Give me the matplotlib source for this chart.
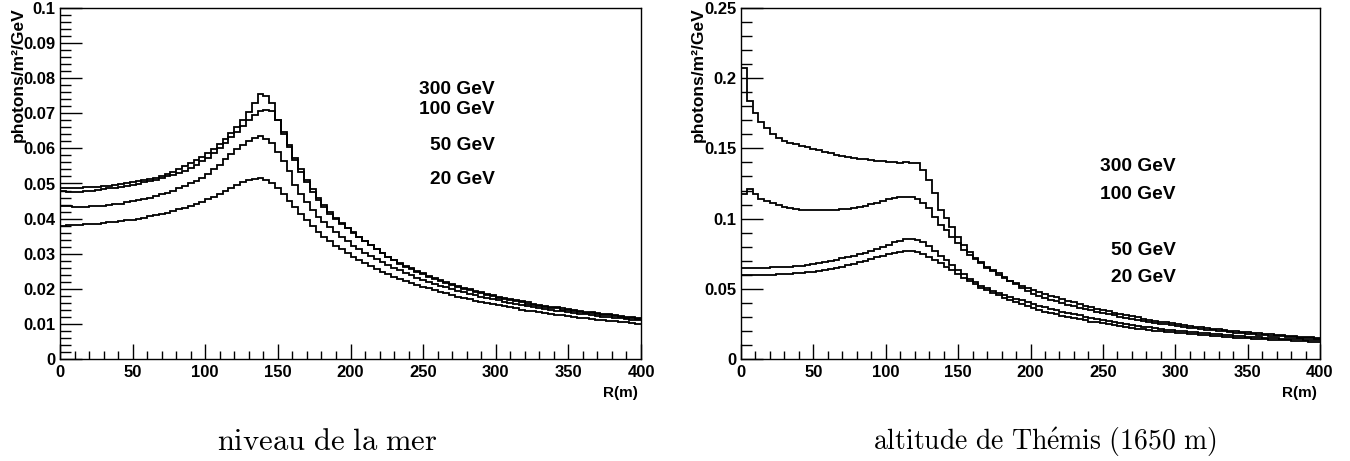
import matplotlib
matplotlib.use('Agg')
import matplotlib.pyplot as plt
from matplotlib.ticker import MultipleLocator

plt.rcParams['mathtext.fontset'] = 'cm'

# ---------------- data (4 m bins from 0 to 400 m) ----------------
bin_edges = list(range(0, 401, 4))

# sea level
L300 = [0.0488, 0.0488, 0.0487, 0.0488, 0.0489, 0.0490, 0.0491, 0.0492, 0.0494, 0.0496,
        0.0498, 0.0500, 0.0503, 0.0506, 0.0509, 0.0513, 0.0517, 0.0522, 0.0528, 0.0534,
        0.0541, 0.0549, 0.0557, 0.0566, 0.0576, 0.0587, 0.0599, 0.0612, 0.0627, 0.0644,
        0.0662, 0.0681, 0.0703, 0.0728, 0.0755, 0.0750, 0.0730, 0.0680, 0.0640, 0.0603,
        0.0567, 0.0533, 0.0503, 0.0477, 0.0453, 0.0432, 0.0414, 0.0398, 0.0384, 0.0372,
        0.0360, 0.0347, 0.0335, 0.0324, 0.0313, 0.0302, 0.0292, 0.0283, 0.0274, 0.0266,
        0.0258, 0.0251, 0.0244, 0.0237, 0.0231, 0.0225, 0.0219, 0.0214, 0.0208, 0.0203,
        0.0199, 0.0194, 0.0190, 0.0186, 0.0182, 0.0178, 0.0174, 0.0171, 0.0167, 0.0164,
        0.0161, 0.0158, 0.0155, 0.0152, 0.0149, 0.0147, 0.0144, 0.0142, 0.0140, 0.0137,
        0.0135, 0.0133, 0.0131, 0.0129, 0.0127, 0.0125, 0.0123, 0.0121, 0.0119, 0.0117]
L100 = [0.0480, 0.0477, 0.0476, 0.0477, 0.0478, 0.0480, 0.0482, 0.0484, 0.0486, 0.0488,
        0.0490, 0.0493, 0.0496, 0.0499, 0.0503, 0.0507, 0.0511, 0.0516, 0.0521, 0.0525,
        0.0530, 0.0537, 0.0545, 0.0553, 0.0563, 0.0574, 0.0586, 0.0600, 0.0615, 0.0632,
        0.0648, 0.0664, 0.0680, 0.0696, 0.0707, 0.0710, 0.0706, 0.0682, 0.0648, 0.0610,
        0.0574, 0.0540, 0.0510, 0.0483, 0.0459, 0.0438, 0.0419, 0.0402, 0.0387, 0.0374,
        0.0362, 0.0349, 0.0336, 0.0324, 0.0312, 0.0301, 0.0291, 0.0281, 0.0272, 0.0263,
        0.0255, 0.0248, 0.0241, 0.0234, 0.0228, 0.0222, 0.0216, 0.0211, 0.0205, 0.0200,
        0.0196, 0.0191, 0.0187, 0.0183, 0.0179, 0.0175, 0.0171, 0.0168, 0.0164, 0.0161,
        0.0158, 0.0155, 0.0152, 0.0149, 0.0146, 0.0144, 0.0141, 0.0139, 0.0137, 0.0134,
        0.0132, 0.0130, 0.0128, 0.0126, 0.0124, 0.0122, 0.0120, 0.0118, 0.0116, 0.0114]
L50 = [0.0437, 0.0435, 0.0433, 0.0433, 0.0434, 0.0435, 0.0436, 0.0437, 0.0439, 0.0441,
       0.0443, 0.0446, 0.0449, 0.0452, 0.0456, 0.0460, 0.0464, 0.0469, 0.0474, 0.0480,
       0.0486, 0.0493, 0.0500, 0.0508, 0.0516, 0.0527, 0.0540, 0.0554, 0.0569, 0.0584,
       0.0598, 0.0611, 0.0622, 0.0631, 0.0634, 0.0628, 0.0614, 0.0590, 0.0563, 0.0535,
       0.0497, 0.0470, 0.0446, 0.0424, 0.0405, 0.0389, 0.0377, 0.0362, 0.0349, 0.0337,
       0.0322, 0.0312, 0.0302, 0.0293, 0.0284, 0.0276, 0.0268, 0.0260, 0.0253, 0.0246,
       0.0239, 0.0232, 0.0226, 0.0220, 0.0215, 0.0209, 0.0204, 0.0199, 0.0195, 0.0190,
       0.0186, 0.0182, 0.0178, 0.0174, 0.0170, 0.0167, 0.0163, 0.0160, 0.0157, 0.0154,
       0.0151, 0.0148, 0.0145, 0.0143, 0.0140, 0.0138, 0.0136, 0.0133, 0.0131, 0.0129,
       0.0127, 0.0125, 0.0123, 0.0121, 0.0119, 0.0118, 0.0116, 0.0114, 0.0112, 0.0111]
L20 = [0.0380, 0.0381, 0.0382, 0.0383, 0.0384, 0.0385, 0.0386, 0.0387, 0.0389, 0.0391,
       0.0393, 0.0395, 0.0397, 0.0400, 0.0403, 0.0406, 0.0409, 0.0413, 0.0417, 0.0421,
       0.0426, 0.0431, 0.0436, 0.0442, 0.0448, 0.0455, 0.0462, 0.0470, 0.0479, 0.0487,
       0.0495, 0.0503, 0.0510, 0.0514, 0.0515, 0.0510, 0.0500, 0.0486, 0.0469, 0.0451,
       0.0433, 0.0414, 0.0396, 0.0379, 0.0363, 0.0349, 0.0336, 0.0323, 0.0312, 0.0301,
       0.0291, 0.0282, 0.0273, 0.0264, 0.0256, 0.0249, 0.0242, 0.0235, 0.0229, 0.0223,
       0.0217, 0.0211, 0.0206, 0.0201, 0.0196, 0.0191, 0.0187, 0.0182, 0.0178, 0.0174,
       0.0170, 0.0166, 0.0163, 0.0159, 0.0156, 0.0153, 0.0150, 0.0147, 0.0144, 0.0141,
       0.0138, 0.0136, 0.0133, 0.0131, 0.0129, 0.0126, 0.0124, 0.0122, 0.0120, 0.0118,
       0.0116, 0.0114, 0.0112, 0.0111, 0.0109, 0.0107, 0.0106, 0.0104, 0.0103, 0.0101]

# Themis altitude (1650 m)
R300 = [0.2070, 0.1838, 0.1750, 0.1690, 0.1643, 0.1600, 0.1574, 0.1555, 0.1540, 0.1528,
        0.1517, 0.1507, 0.1497, 0.1486, 0.1476, 0.1466, 0.1456, 0.1448, 0.1441, 0.1434,
        0.1428, 0.1422, 0.1417, 0.1412, 0.1408, 0.1404, 0.1401, 0.1399, 0.1400, 0.1399,
        0.1393, 0.1347, 0.1276, 0.1185, 0.1061, 0.1002, 0.0943, 0.0871, 0.0812, 0.0764,
        0.0717, 0.0681, 0.0650, 0.0624, 0.0600, 0.0578, 0.0557, 0.0538, 0.0520, 0.0504,
        0.0490, 0.0479, 0.0465, 0.0452, 0.0439, 0.0427, 0.0415, 0.0403, 0.0391, 0.0380,
        0.0369, 0.0359, 0.0349, 0.0339, 0.0330, 0.0321, 0.0312, 0.0304, 0.0296, 0.0288,
        0.0281, 0.0274, 0.0267, 0.0260, 0.0254, 0.0248, 0.0242, 0.0236, 0.0231, 0.0226,
        0.0221, 0.0216, 0.0211, 0.0207, 0.0202, 0.0198, 0.0194, 0.0190, 0.0186, 0.0183,
        0.0179, 0.0176, 0.0172, 0.0169, 0.0166, 0.0163, 0.0160, 0.0157, 0.0154, 0.0151]
R100 = [0.1175, 0.1209, 0.1175, 0.1140, 0.1126, 0.1110, 0.1097, 0.1085, 0.1074, 0.1067,
        0.1062, 0.1060, 0.1059, 0.1059, 0.1060, 0.1061, 0.1063, 0.1066, 0.1071, 0.1077,
        0.1084, 0.1093, 0.1103, 0.1114, 0.1126, 0.1137, 0.1146, 0.1153, 0.1157, 0.1155,
        0.1140, 0.1109, 0.1073, 0.1014, 0.0955, 0.0919, 0.0871, 0.0824, 0.0777, 0.0741,
        0.0715, 0.0690, 0.0658, 0.0635, 0.0612, 0.0585, 0.0558, 0.0532, 0.0508, 0.0484,
        0.0462, 0.0449, 0.0436, 0.0423, 0.0411, 0.0399, 0.0388, 0.0377, 0.0366, 0.0356,
        0.0346, 0.0337, 0.0328, 0.0319, 0.0310, 0.0302, 0.0294, 0.0286, 0.0279, 0.0272,
        0.0265, 0.0258, 0.0252, 0.0246, 0.0240, 0.0234, 0.0229, 0.0223, 0.0218, 0.0213,
        0.0208, 0.0204, 0.0200, 0.0196, 0.0192, 0.0188, 0.0184, 0.0180, 0.0177, 0.0173,
        0.0170, 0.0167, 0.0164, 0.0161, 0.0158, 0.0155, 0.0152, 0.0150, 0.0147, 0.0145]
R50 = [0.0650, 0.0650, 0.0650, 0.0650, 0.0651, 0.0652, 0.0653, 0.0655, 0.0657, 0.0659,
       0.0663, 0.0669, 0.0676, 0.0684, 0.0692, 0.0700, 0.0708, 0.0716, 0.0725, 0.0735,
       0.0746, 0.0758, 0.0771, 0.0785, 0.0800, 0.0815, 0.0830, 0.0843, 0.0853, 0.0857,
       0.0850, 0.0830, 0.0803, 0.0770, 0.0737, 0.0703, 0.0670, 0.0635, 0.0603, 0.0573,
       0.0546, 0.0523, 0.0503, 0.0486, 0.0471, 0.0457, 0.0443, 0.0430, 0.0417, 0.0405,
       0.0390, 0.0379, 0.0368, 0.0358, 0.0348, 0.0338, 0.0328, 0.0319, 0.0310, 0.0301,
       0.0293, 0.0285, 0.0277, 0.0270, 0.0263, 0.0256, 0.0249, 0.0243, 0.0237, 0.0231,
       0.0225, 0.0220, 0.0215, 0.0210, 0.0205, 0.0201, 0.0197, 0.0193, 0.0189, 0.0185,
       0.0182, 0.0178, 0.0175, 0.0172, 0.0169, 0.0166, 0.0163, 0.0160, 0.0158, 0.0155,
       0.0153, 0.0150, 0.0148, 0.0146, 0.0143, 0.0141, 0.0139, 0.0137, 0.0135, 0.0133]
R20 = [0.0598, 0.0598, 0.0598, 0.0599, 0.0600, 0.0601, 0.0602, 0.0604, 0.0606, 0.0609,
       0.0613, 0.0618, 0.0623, 0.0629, 0.0635, 0.0642, 0.0650, 0.0658, 0.0667, 0.0677,
       0.0688, 0.0700, 0.0712, 0.0724, 0.0735, 0.0746, 0.0756, 0.0764, 0.0769, 0.0768,
       0.0760, 0.0746, 0.0727, 0.0705, 0.0682, 0.0658, 0.0632, 0.0606, 0.0580, 0.0555,
       0.0531, 0.0509, 0.0489, 0.0471, 0.0454, 0.0438, 0.0423, 0.0405, 0.0389, 0.0374,
       0.0360, 0.0349, 0.0338, 0.0328, 0.0318, 0.0309, 0.0300, 0.0291, 0.0283, 0.0275,
       0.0267, 0.0260, 0.0253, 0.0246, 0.0240, 0.0234, 0.0228, 0.0222, 0.0217, 0.0212,
       0.0207, 0.0202, 0.0198, 0.0194, 0.0190, 0.0186, 0.0182, 0.0178, 0.0175, 0.0171,
       0.0168, 0.0165, 0.0162, 0.0159, 0.0156, 0.0153, 0.0150, 0.0148, 0.0145, 0.0143,
       0.0141, 0.0138, 0.0136, 0.0134, 0.0132, 0.0130, 0.0128, 0.0126, 0.0124, 0.0123]

energy_labels = ["300 GeV", "100 GeV", "50 GeV", "20 GeV"]
x_ticks = [0, 50, 100, 150, 200, 250, 300, 350, 400]
left_yticks = [0, 0.01, 0.02, 0.03, 0.04, 0.05, 0.06, 0.07, 0.08, 0.09, 0.1]
left_ylabels = ["0", "0.01", "0.02", "0.03", "0.04", "0.05", "0.06", "0.07", "0.08", "0.09", "0.1"]
right_yticks = [0, 0.05, 0.1, 0.15, 0.2, 0.25]
right_ylabels = ["0", "0.05", "0.1", "0.15", "0.2", "0.25"]
captions = [r"$\mathrm{niveau\ de\ la\ mer}$",
            r"$\mathrm{altitude\ de\ Th\acute{e}mis\ (1650\ m)}$"]

for s in (L300, L100, L50, L20, R300, R100, R50, R20):
    assert len(s) == len(bin_edges) - 1, len(s)

# ---------------- figure ----------------
W, H = 1350, 461
fig = plt.figure(figsize=(W / 100, H / 100), dpi=100)

def fx(px):
    return px / W

def fy(py):
    return 1 - py / H

SANS = 'Liberation Sans'
tickfont = dict(family=SANS, fontsize=12, fontweight='bold')

def make_axes(x0, x1, series, yticks, ylabels, ymax, yminor):
    ax = fig.add_axes([fx(x0), fy(359), fx(x1) - fx(x0), (359 - 8) / H])
    for s in series:
        ax.stairs(s, bin_edges, baseline=None, color='black', lw=1.3)
    ax.set_xlim(0, 400)
    ax.set_ylim(0, ymax)
    ax.set_xticks(x_ticks, [str(v) for v in x_ticks], **tickfont)
    ax.set_yticks(yticks, ylabels, **tickfont)
    ax.xaxis.set_minor_locator(MultipleLocator(10))
    ax.yaxis.set_minor_locator(MultipleLocator(yminor))
    ax.tick_params(which='both', direction='in', top=False, right=False,
                   color='black', width=1.0)
    ax.tick_params(axis='y', which='major', length=16, pad=3)
    ax.tick_params(axis='y', which='minor', length=8)
    ax.tick_params(axis='x', which='major', length=11, pad=4)
    ax.tick_params(axis='x', which='minor', length=6)
    for sp in ax.spines.values():
        sp.set_linewidth(1.0)
        sp.set_color('black')
    return ax

axL = make_axes(60, 641, [L300, L100, L50, L20], left_yticks, left_ylabels, 0.1, 0.002)
axR = make_axes(741, 1320, [R300, R100, R50, R20], right_yticks, right_ylabels, 0.25, 0.01)

labfont = dict(family=SANS, fontweight='bold')

# y-axis titles
fig.text(fx(18), fy(7), "photons/m²/GeV", rotation=90, ha='center', va='top',
         fontsize=12.5, **labfont)
fig.text(fx(698), fy(7), "photons/m²/GeV", rotation=90, ha='center', va='top',
         fontsize=12.5, **labfont)

# x-axis titles
fig.text(fx(638), fy(393), "R(m)", ha='right', va='center', fontsize=11, **labfont)
fig.text(fx(1317), fy(393), "R(m)", ha='right', va='center', fontsize=11, **labfont)

# energy labels
for lab, py in zip(energy_labels, [90, 110, 146, 179]):
    fig.text(fx(495), fy(py), lab, ha='right', va='center', fontsize=13.8, **labfont)
for lab, py in zip(energy_labels, [166, 194, 250, 277]):
    fig.text(fx(1176), fy(py), lab, ha='right', va='center', fontsize=13.8, **labfont)

# captions
fig.text(fx(327), fy(450), captions[0], ha='center', va='baseline', fontsize=22)
fig.text(fx(1045), fy(450), captions[1], ha='center', va='baseline', fontsize=20)

fig.savefig('out.png', dpi=100)
